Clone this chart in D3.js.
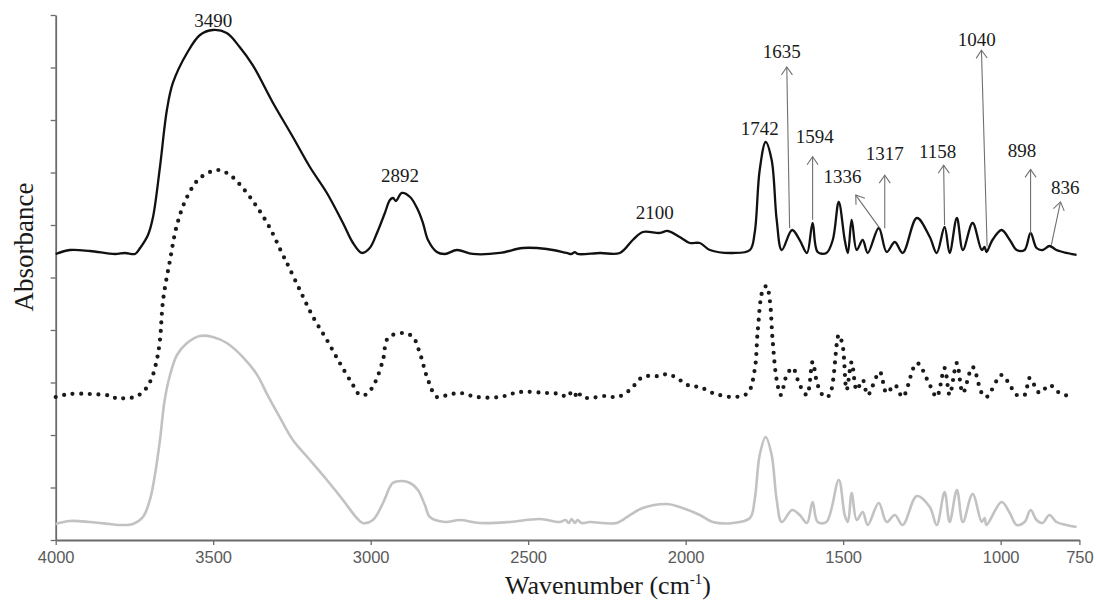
<!DOCTYPE html>
<html><head><meta charset="utf-8">
<script src="https://cdn.jsdelivr.net/npm/d3@7"></script>
<style>body{margin:0;background:#fff}svg{display:block}</style>
</head><body><svg id="c" width="1096" height="607"></svg>
<script>
// Wavenumber tick labels
const xTicks = [4000, 3500, 3000, 2500, 2000, 1500, 1000, 750];
const yTicks = [0,1,2,3,4,5,6,7,8,9,10];

// Spectrum A (solid black, top) [wavenumber, absorbance]
const spectrumA = [
[4000,5.448],[3955,5.524],[3891,5.505],[3812,5.448],[3780,5.467],[3748,5.448],[3732,5.562],[3707,5.810],
[3691,6.152],[3669,7.105],[3647,8.190],[3628,8.705],[3583,9.276],[3542,9.619],[3501,9.714],[3457,9.657],
[3416,9.390],[3374,9.040],[3310,8.324],[3247,7.676],[3193,7.105],[3139,6.610],[3088,6.038],[3056,5.657],
[3028,5.467],[3003,5.562],[2980,5.848],[2955,6.229],[2939,6.476],[2929,6.514],[2920,6.457],[2901,6.610],
[2875,6.533],[2850,6.286],[2834,6.038],[2818,5.714],[2790,5.486],[2764,5.448],[2726,5.524],[2676,5.448],
[2590,5.467],[2517,5.562],[2441,5.543],[2378,5.467],[2362,5.448],[2352,5.485],[2343,5.448],[2272,5.467],
[2209,5.467],[2168,5.714],[2136,5.867],[2082,5.848],[2057,5.886],[2019,5.771],[1987,5.657],[1955,5.657],
[1923,5.524],[1850,5.467],[1796,5.524],[1781,5.848],[1765,7.048],[1746,7.581],[1727,7.238],[1711,6.095],
[1695,5.524],[1662,5.905],[1638,5.714],[1615,5.467],[1597,6.038],[1581,5.486],[1553,5.467],[1533,5.714],
[1514,6.438],[1495,5.714],[1485,5.467],[1473,6.095],[1457,5.524],[1438,5.714],[1422,5.467],[1387,5.943],
[1362,5.486],[1336,5.676],[1311,5.467],[1266,6.133],[1225,5.771],[1203,5.467],[1178,5.962],[1162,5.467],
[1139,6.133],[1120,5.524],[1089,6.038],[1060,5.524],[1051,5.581],[1045,5.486],[1026,5.714],[997,5.905],
[971,5.714],[949,5.524],[924,5.524],[905,5.848],[886,5.562],[867,5.524],[845,5.600],[823,5.524],
[791,5.467],[759,5.429]
];

// Spectrum B (dotted black, middle)
const spectrumB = [
[4000,2.724],[3955,2.781],[3891,2.781],[3844,2.762],[3821,2.743],[3805,2.686],[3780,2.705],[3748,2.724],
[3717,2.857],[3695,3.086],[3679,3.429],[3669,3.810],[3659,4.571],[3637,5.333],[3615,6.000],[3583,6.533],
[3542,6.895],[3485,7.048],[3447,6.952],[3406,6.705],[3361,6.343],[3320,5.943],[3279,5.430],[3266,5.276],
[3225,4.762],[3183,4.248],[3139,3.810],[3098,3.371],[3060,2.990],[3034,2.762],[3012,2.781],[2987,2.990],
[2961,3.429],[2945,3.848],[2898,3.943],[2866,3.867],[2844,3.562],[2818,3.048],[2790,2.724],[2755,2.762],
[2717,2.800],[2663,2.724],[2590,2.724],[2527,2.819],[2441,2.800],[2400,2.781],[2375,2.724],[2362,2.819],
[2352,2.743],[2343,2.838],[2330,2.724],[2305,2.705],[2257,2.743],[2216,2.724],[2177,2.857],[2136,3.105],
[2082,3.124],[2057,3.162],[2019,3.048],[1987,2.933],[1955,2.914],[1914,2.800],[1850,2.724],[1803,2.800],
[1781,3.238],[1771,4.000],[1755,4.762],[1743,4.838],[1733,4.571],[1724,3.810],[1711,3.048],[1698,2.762],
[1679,3.143],[1660,3.276],[1638,2.952],[1615,2.762],[1597,3.390],[1581,2.952],[1559,2.724],[1543,2.762],
[1514,3.905],[1502,3.714],[1489,2.857],[1473,3.390],[1457,2.857],[1438,3.048],[1422,2.762],[1384,3.200],
[1362,2.800],[1336,2.952],[1311,2.724],[1266,3.371],[1225,2.952],[1203,2.724],[1178,3.276],[1162,2.762],
[1139,3.371],[1120,2.800],[1089,3.295],[1060,2.800],[1045,2.724],[997,3.143],[971,2.952],[949,2.762],
[924,2.762],[908,3.086],[876,2.800],[845,2.952],[813,2.800],[771,2.724]
];

// Spectrum C (solid grey, bottom)
const spectrumC = [
[4000,0.305],[3955,0.362],[3891,0.343],[3828,0.305],[3796,0.286],[3755,0.305],[3723,0.438],[3701,0.762],
[3685,1.238],[3669,1.905],[3654,2.667],[3637,3.143],[3615,3.524],[3583,3.752],[3542,3.886],[3501,3.867],
[3457,3.752],[3405,3.480],[3361,3.150],[3329,2.780],[3288,2.330],[3247,1.905],[3193,1.524],[3139,1.143],
[3088,0.762],[3044,0.419],[3025,0.324],[2993,0.381],[2961,0.705],[2939,1.010],[2930,1.086],[2901,1.124],
[2875,1.086],[2850,0.952],[2828,0.667],[2812,0.438],[2764,0.343],[2717,0.381],[2654,0.324],[2558,0.343],
[2463,0.400],[2400,0.343],[2381,0.381],[2371,0.324],[2362,0.400],[2352,0.324],[2343,0.381],[2330,0.324],
[2305,0.343],[2219,0.324],[2177,0.476],[2136,0.610],[2060,0.686],[2019,0.629],[1955,0.476],[1914,0.343],
[1850,0.324],[1796,0.419],[1781,0.762],[1765,1.619],[1746,1.962],[1727,1.619],[1711,0.762],[1695,0.343],
[1662,0.571],[1638,0.476],[1615,0.324],[1597,0.724],[1581,0.343],[1553,0.343],[1514,1.143],[1495,0.476],
[1485,0.343],[1473,0.895],[1457,0.381],[1438,0.533],[1422,0.286],[1387,0.705],[1362,0.343],[1336,0.476],
[1311,0.286],[1266,0.838],[1225,0.629],[1203,0.286],[1178,0.914],[1162,0.343],[1139,0.952],[1120,0.343],
[1089,0.876],[1060,0.343],[1051,0.419],[1045,0.286],[997,0.724],[971,0.514],[949,0.286],[924,0.343],
[905,0.571],[886,0.381],[867,0.324],[845,0.476],[823,0.343],[791,0.286],[759,0.248]
];

// Peak labels without arrows: [text, wavenumber, absorbance(baseline)]
const peakLabels = [
["3490",3500,9.77],["2892",2907,6.82],["2100",2098,6.11],["1742",1765,7.71]
];
// Arrowed labels: [text, labelWn, labelAbs, fromWn, fromAbs, toWn, toAbs]
const arrowLabels = [
["1635",1695,9.18,1670,5.94,1679,9.01],
["1594",1590,7.56,1597,6.10,1597,7.30],
["1336",1502,6.80,1384,5.94,1460,6.57],
["1317",1368,7.24,1368,5.94,1368,6.95],
["1158",1200,7.28,1178,6.00,1181,7.14],
["1040",1076,9.41,1043,5.59,1061,9.33],
["898",932,7.30,905,5.84,905,7.06],
["836",795,6.59,839,5.62,810,6.44]
];

const svg = d3.select("#c");
const x = d3.scaleLinear().domain([4000,750]).range([55.7,1079.4]);
const y = d3.scaleLinear().domain([0,10]).range([540,15]);

const defs = svg.append("defs");
defs.append("marker").attr("id","arr").attr("markerUnits","userSpaceOnUse")
  .attr("markerWidth",20).attr("markerHeight",20).attr("viewBox","-10 -10 20 20")
  .attr("refX",0).attr("refY",0).attr("orient","auto")
  .append("path").attr("d","M-8,-5.5L0,0L-8,5.5").attr("fill","none")
  .attr("stroke","#707070").attr("stroke-width",1.1);

// axes
const xAxis = d3.axisBottom(x).tickValues(xTicks).tickSize(5).tickSizeOuter(0).tickFormat(d3.format("d"));
const gx = svg.append("g").attr("transform","translate(0,540)").call(xAxis);
gx.select(".domain").attr("stroke","#6a6a6a").attr("stroke-width",1.8);
gx.selectAll(".tick line").attr("stroke","#6a6a6a").attr("stroke-width",1.3);
gx.selectAll(".tick text").attr("y",23).attr("dy",0).attr("fill","#5a5a5a")
  .style("font-family","'Liberation Sans', Arial, sans-serif").style("font-size","16.5px");

const yAxis = d3.axisLeft(y).tickValues(yTicks).tickSize(5).tickSizeOuter(0).tickFormat("");
const gy = svg.append("g").attr("transform","translate(55.7,0)").call(yAxis);
gy.select(".domain").attr("stroke","#6a6a6a").attr("stroke-width",1.8);
gy.selectAll(".tick line").attr("stroke","#6a6a6a").attr("stroke-width",1.3);

const line = d3.line().x(d=>x(d[0])).y(d=>y(d[1])).curve(d3.curveCatmullRom.alpha(0.5));

svg.append("path").datum(spectrumC).attr("d",line).attr("fill","none")
  .attr("stroke","#c2c2c2").attr("stroke-width",2.6).attr("stroke-linejoin","round");
svg.append("path").datum(spectrumB).attr("d",line).attr("fill","none")
  .attr("stroke","#1a1a1a").attr("stroke-width",4.2).attr("stroke-dasharray","0 8.6")
  .attr("stroke-linecap","round");
svg.append("path").datum(spectrumA).attr("d",line).attr("fill","none")
  .attr("stroke","#111").attr("stroke-width",2.3).attr("stroke-linejoin","round");

// arrows
svg.append("g").selectAll("line").data(arrowLabels).join("line")
  .attr("x1",d=>x(d[3])).attr("y1",d=>y(d[4])).attr("x2",d=>x(d[5])).attr("y2",d=>y(d[6]))
  .attr("stroke","#707070").attr("stroke-width",1.1).attr("marker-end","url(#arr)");

const serif = "'Liberation Serif','Times New Roman',Times,serif";
svg.append("g").selectAll("text").data(peakLabels.concat(arrowLabels)).join("text")
  .attr("x",d=>x(d[1])).attr("y",d=>y(d[2])).attr("text-anchor","middle")
  .style("font-family",serif).style("font-size","19px").attr("fill","#1a1a1a").text(d=>d[0]);

// titles
const xt = svg.append("text").attr("x",608).attr("y",594).attr("text-anchor","middle")
  .style("font-family",serif).style("font-size","26px").attr("fill","#1a1a1a");
xt.append("tspan").text("Wavenumber (cm");
xt.append("tspan").attr("dy",-10).style("font-size","15px").text("-1");
xt.append("tspan").attr("dy",10).text(")");

svg.append("text").attr("transform","translate(33,247) rotate(-90)").attr("text-anchor","middle")
  .style("font-family",serif).style("font-size","27px").attr("fill","#1a1a1a").text("Absorbance");
</script></body></html>
